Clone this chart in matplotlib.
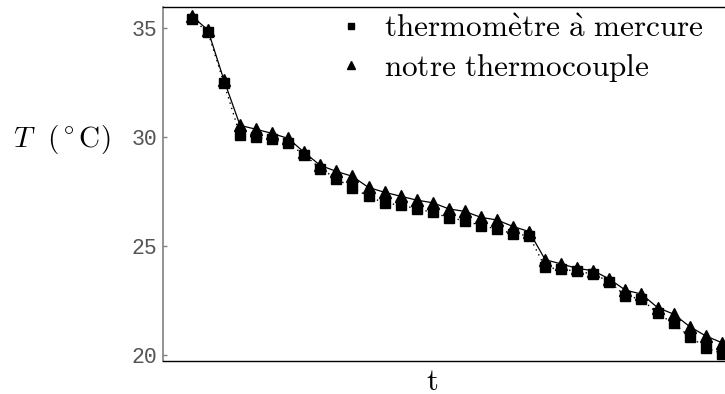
import numpy as np
import matplotlib
matplotlib.use("Agg")
import matplotlib.pyplot as plt

plt.rcParams['mathtext.fontset'] = 'cm'

# temperatures (deg C), one per time step
mercure = [35.43, 34.83, 32.48, 30.09, 30.00, 29.91, 29.72, 29.20, 28.57, 28.11,
           27.67, 27.30, 26.98, 26.90, 26.72, 26.56, 26.31, 26.18, 25.95, 25.80,
           25.57, 25.49, 24.03, 23.96, 23.85, 23.73, 23.38, 22.73, 22.58, 21.92,
           21.46, 20.86, 20.35, 20.08]
thermocouple = [35.57, 34.92, 32.62, 30.55, 30.37, 30.18, 29.95, 29.31, 28.71, 28.44,
                28.21, 27.70, 27.48, 27.30, 27.12, 27.00, 26.72, 26.60, 26.33, 26.21,
                25.91, 25.68, 24.39, 24.19, 23.99, 23.88, 23.50, 22.99, 22.81, 22.19,
                21.89, 21.32, 20.89, 20.58]
yticks = [20, 25, 30, 35]
labels = [r'$\mathrm{thermom\grave{e}tre\ \grave{a}\ mercure}$',
          r'$\mathrm{notre\ thermocouple}$']

t = np.arange(len(mercure))

fig = plt.figure(figsize=(7.25, 3.94), dpi=100)
ax = fig.add_axes([0.2248, 0.0838, 0.7752, 0.8984])

ax.plot(t, mercure, color='k', linestyle=(0, (1, 3)), linewidth=1,
        marker='s', markersize=6.8, label=labels[0])
ax.plot(t, thermocouple, color='k', linestyle='-', linewidth=0.9,
        marker='^', markersize=8.5, label=labels[1])

ax.set_xlim(-1.8, 33.2)
ax.set_ylim(19.74, 35.98)
ax.set_xticks([])
ax.set_yticks(yticks)
ax.set_yticklabels([str(v) for v in yticks], family='Liberation Mono',
                   fontsize=15.5, color='#555555')
ax.tick_params(axis='y', direction='in', length=3, width=1, color='#808080', pad=4)

ax.spines['right'].set_visible(False)
ax.spines['left'].set_color('#808080')
ax.spines['left'].set_linewidth(1.2)
ax.spines['top'].set_linewidth(1)
ax.spines['bottom'].set_linewidth(1)

leg = ax.legend(loc='upper right', frameon=False, fontsize=22.5, markerscale=0.7,
                handlelength=1.0, handletextpad=0.55, labelspacing=0.3,
                borderaxespad=0.1, bbox_to_anchor=(0.99, 1.025))
for h in leg.get_lines():
    h.set_linestyle('none')

fig.text(0.018, 1 - 140 / 394, r'$T\ \ (^\circ\mathrm{C})$', fontsize=21,
         va='center', ha='left')
fig.text(432 / 725, 1 - 381 / 394, r'$\mathrm{t}$', fontsize=22,
         va='center', ha='center')

fig.savefig('out.png', dpi=100)
